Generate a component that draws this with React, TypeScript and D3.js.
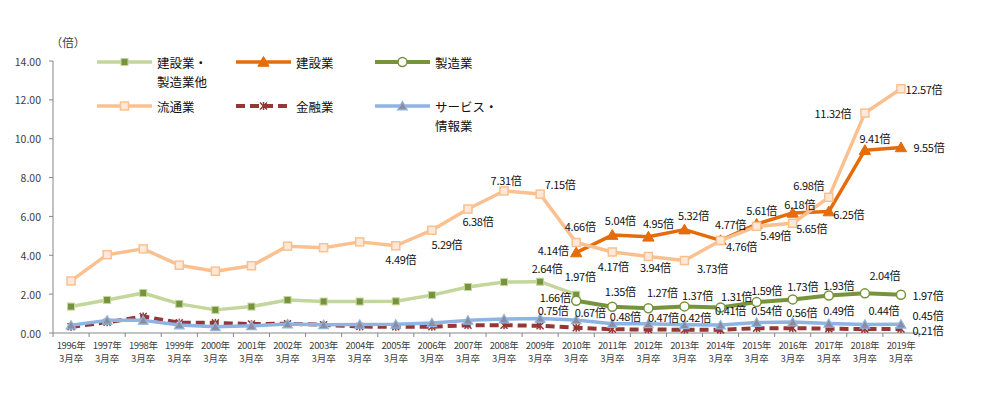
import * as d3 from 'd3';

const years = ['1996', '1997', '1998', '1999', '2000', '2001', '2002', '2003', '2004', '2005', '2006', '2007',
  '2008', '2009', '2010', '2011', '2012', '2013', '2014', '2015', '2016', '2017', '2018', '2019'];
const yTicks = [0, 2, 4, 6, 8, 10, 12, 14];

type V = number | null;
const constructionMfgOther: V[] = [1.36, 1.70, 2.06, 1.50, 1.19, 1.36, 1.70, 1.62, 1.62, 1.63, 1.95, 2.37,
  2.62, 2.64, 1.97, null, null, null, null, null, null, null, null, null];
const construction: V[] = [null, null, null, null, null, null, null, null, null, null, null, null,
  null, null, 4.14, 5.04, 4.95, 5.32, 4.77, 5.61, 6.18, 6.25, 9.41, 9.55];
const manufacturing: V[] = [null, null, null, null, null, null, null, null, null, null, null, null,
  null, null, 1.66, 1.35, 1.27, 1.37, 1.31, 1.59, 1.73, 1.93, 2.04, 1.97];
const distribution: V[] = [2.68, 4.03, 4.33, 3.49, 3.18, 3.46, 4.47, 4.39, 4.69, 4.49, 5.29, 6.38,
  7.31, 7.15, 4.66, 4.17, 3.94, 3.73, 4.76, 5.49, 5.65, 6.98, 11.32, 12.57];
const finance: V[] = [0.32, 0.55, 0.85, 0.53, 0.52, 0.46, 0.48, 0.42, 0.33, 0.32, 0.32, 0.40,
  0.40, 0.37, 0.27, 0.19, 0.18, 0.17, 0.16, 0.25, 0.25, 0.22, 0.20, 0.21];
const service: V[] = [0.40, 0.65, 0.65, 0.41, 0.32, 0.37, 0.46, 0.42, 0.44, 0.45, 0.52, 0.65,
  0.72, 0.75, 0.67, 0.48, 0.47, 0.42, 0.41, 0.54, 0.56, 0.49, 0.44, 0.45];

// which points get a "x.xx倍" label, and where the label sits relative to the point
const distributionLabels = [[9, 5, 13], [10, 15, 14], [11, 10, 12], [12, 2, -11], [13, 20, -10], [14, 4, -16],
  [15, 1, 14], [16, 7, 11], [17, 28, 7], [18, 21, 5], [19, 19, 9], [20, 19, 5], [21, -20, -12], [22, -32, 0], [23, 23, 0]];
const constructionLabels = [[14, -23, -3], [15, 8, -15], [16, 10, -14], [17, 9, -15], [18, 10, -16], [19, 5, -14],
  [20, 7, -9], [21, 20, 2], [22, 10, -12], [23, 28, 0]];
const otherLabels = [[13, 7, -14], [14, 4, -19]];
const manufacturingLabels = [[14, -21, -4], [15, 8, -16], [16, 14, -16], [17, 13, -11], [18, 16, -12], [19, 10, -12],
  [20, 10, -13], [21, 10, -11], [22, 20, -18], [23, 27, 0]];
const serviceLabels = [[13, 13, -8], [14, 14, -8], [15, 13, -8], [16, 15, -7], [17, 11, -8], [18, 10, -15],
  [19, 10, -13], [20, 9, -10], [21, 10, -13], [22, 19, -14], [23, 27, -9]];
const financeLabels = [[23, 27, 1]];

const FONT = '"Noto Sans CJK JP", "Noto Sans", sans-serif';

const series = [
  { name: ['建設業・', '製造業他'], data: constructionMfgOther, color: '#C3D69B', width: 3.5, marker: 'squareFill', labels: otherLabels },
  { name: ['建設業'], data: construction, color: '#E46C0A', width: 3.5, marker: 'triangle', labels: constructionLabels },
  { name: ['製造業'], data: manufacturing, color: '#77933C', width: 4, marker: 'circle', labels: manufacturingLabels },
  { name: ['流通業'], data: distribution, color: '#FAC090', width: 3.5, marker: 'squareHollow', labels: distributionLabels },
  { name: ['金融業'], data: finance, color: '#953735', width: 4, marker: 'star', dash: '9,5', labels: financeLabels },
  { name: ['サービス・', '情報業'], data: service, color: '#8EB4E3', width: 3.5, marker: 'triangleGray', labels: serviceLabels },
];

function Marker({ kind, color, x, y }: { kind: string; color: string; x: number; y: number }) {
  if (kind === 'squareFill') {
    return <rect x={x - 3.5} y={y - 3.5} width={7} height={7} fill="#76923C" stroke={color} strokeWidth={1} />;
  }
  if (kind === 'squareHollow') {
    return <rect x={x - 4} y={y - 4} width={8} height={8} fill="#FDE9D9" stroke={color} strokeWidth={1.5} />;
  }
  if (kind === 'circle') {
    return <circle cx={x} cy={y} r={4.5} fill="#fff" stroke={color} strokeWidth={1.5} />;
  }
  if (kind === 'triangle') {
    const p = d3.symbol(d3.symbolTriangle, 55)();
    return <path d={p || ''} transform={`translate(${x},${y + 1})`} fill={color} stroke={color} />;
  }
  if (kind === 'triangleGray') {
    const p = d3.symbol(d3.symbolTriangle, 40)();
    return <path d={p || ''} transform={`translate(${x},${y + 1})`} fill="#8c8c9a" stroke={color} strokeWidth={1.2} />;
  }
  // star (x with vertical bar)
  return (
    <g transform={`translate(${x},${y})`} stroke={color} strokeWidth={1.5}>
      <line x1={-3.5} y1={-3.5} x2={3.5} y2={3.5} />
      <line x1={-3.5} y1={3.5} x2={3.5} y2={-3.5} />
      <line x1={0} y1={-4} x2={0} y2={4} />
    </g>
  );
}

export default function App() {
  const width = 991;
  const height = 395;

  const x = d3.scaleBand<string>().domain(years).range([53, 919]);
  const y = d3.scaleLinear().domain([0, 14]).range([333, 61]);
  const cx = (i: number) => (x(years[i]) as number) + x.bandwidth() / 2;

  const line = d3
    .line<V>()
    .defined((d) => d !== null)
    .x((_, i) => cx(i))
    .y((d) => y(d as number));

  const legendPos = [
    [97, 62], [236, 62], [375, 62],
    [97, 106], [236, 106], [375, 106],
  ];

  return (
    <svg width={width} height={height} style={{ position: 'absolute', left: 0, top: 0, fontFamily: FONT }}>
      <rect width={width} height={height} fill="#fff" />

      <text x={68} y={42} fontSize={11.5} textAnchor="middle" dominantBaseline="central" fill="#404040">（倍）</text>

      {/* y axis */}
      <line x1={53} x2={53} y1={y(14)} y2={y(0)} stroke="#868686" />
      {yTicks.map((t) => (
        <g key={t}>
          <line x1={49} x2={53} y1={y(t)} y2={y(t)} stroke="#868686" />
          <text x={41} y={y(t)} fontSize={10.5} textAnchor="end" dominantBaseline="central" fill="#404040">
            {t.toFixed(2)}
          </text>
        </g>
      ))}

      {/* x axis */}
      <line x1={53} x2={919} y1={y(0)} y2={y(0)} stroke="#868686" />
      {years.map((yr, i) => (
        <g key={yr}>
          <line x1={(x(yr) as number) + x.bandwidth()} x2={(x(yr) as number) + x.bandwidth()} y1={333} y2={337} stroke="#868686" />
          <text x={cx(i)} y={345} fontSize={9.5} textAnchor="middle" dominantBaseline="central" fill="#404040" letterSpacing={-0.4}>
            {yr}年
          </text>
          <text x={cx(i)} y={358} fontSize={9.5} textAnchor="middle" dominantBaseline="central" fill="#404040">
            3月卒
          </text>
        </g>
      ))}
      <line x1={53} x2={53} y1={333} y2={337} stroke="#868686" />

      {/* series */}
      {series.map((s) => (
        <g key={s.name.join('')}>
          <path d={line(s.data) || ''} fill="none" stroke={s.color} strokeWidth={s.width}
            strokeDasharray={s.dash} strokeLinejoin="round" />
          {s.data.map((v, i) => (v === null ? null : <Marker key={i} kind={s.marker} color={s.color} x={cx(i)} y={y(v)} />))}
        </g>
      ))}

      {/* data labels */}
      {series.map((s) =>
        s.labels.map(([i, dx, dy]) => (
          <text key={s.name.join('') + i} x={cx(i) + dx} y={y(s.data[i] as number) + dy} fontSize={11}
            textAnchor="middle" dominantBaseline="central" fill="#111" letterSpacing={-0.3}>
            {(s.data[i] as number).toFixed(2)}倍
          </text>
        ))
      )}

      {/* legend */}
      {series.map((s, k) => {
        const [lx, ly] = legendPos[k];
        return (
          <g key={'lg' + k}>
            <line x1={lx} x2={lx + 55} y1={ly} y2={ly} stroke={s.color} strokeWidth={s.width} strokeDasharray={s.dash} />
            <Marker kind={s.marker} color={s.color} x={lx + 27.5} y={ly} />
            {s.name.map((n, j) => (
              <text key={n} x={lx + 60} y={ly + j * 19.5} fontSize={12.5} dominantBaseline="central" fill="#111">{n}</text>
            ))}
          </g>
        );
      })}
    </svg>
  );
}
